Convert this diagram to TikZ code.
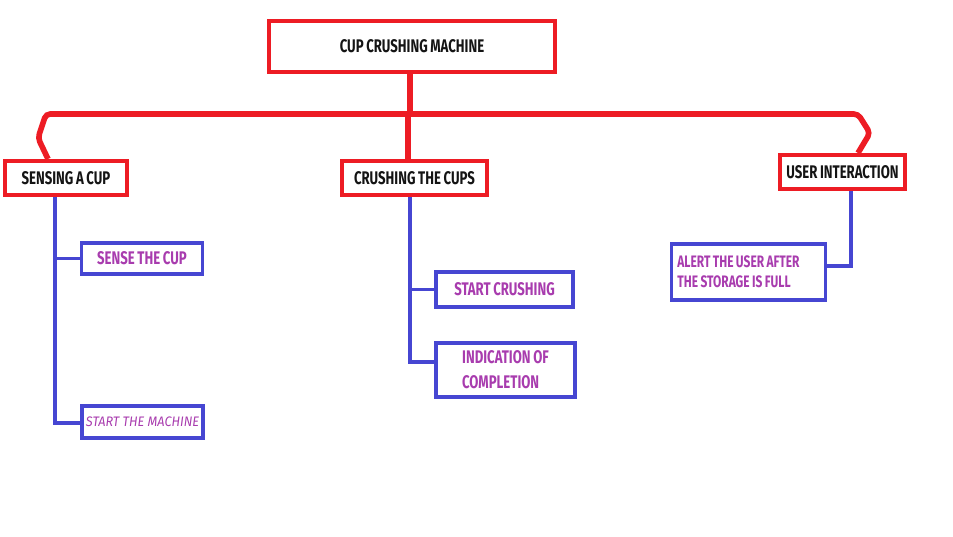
\documentclass[tikz,border=0pt]{standalone}
\usepackage{fontspec}
\usepackage{tikz}
\usetikzlibrary{positioning, calc}
\newfontfamily\dinfont[FakeStretch=0.72, WordSpace=0.85]{Fira Sans}
\newfontfamily\handfont[FakeStretch=0.92]{Fira Sans}
\definecolor{boxred}{HTML}{ED1C24}
\definecolor{boxblue}{HTML}{4646D2}
\definecolor{tasktext}{HTML}{A83CAE}
\definecolor{headtext}{HTML}{141414}

\tikzset{
  headbox/.style={draw=boxred, line width=2.6pt, text=headtext, font=\dinfont\bfseries\fontsize{13}{15}\selectfont, inner sep=0pt},
  taskbox/.style={draw=boxblue, line width=2.6pt, text=tasktext, font=\dinfont\bfseries\fontsize{13}{15}\selectfont, inner sep=0pt},
  redline/.style={boxred, line width=4pt, rounded corners=3pt},
  blueline/.style={boxblue, line width=2.8pt}
}

\begin{document}
\begin{tikzpicture}[x=0.025cm, y=-0.025cm]
  \useasboundingbox (0,0) rectangle (953,537);
  % main heading
  \node[headbox, minimum width=7.15cm, minimum height=1.28cm] (machine) at (412,46.5) {CUP CRUSHING MACHINE};
  % sub headings
  \node[headbox, minimum width=3.05cm, minimum height=0.86cm] (sensing) at (66,178) {SENSING A CUP};
  \node[headbox, minimum width=3.62cm, minimum height=0.86cm] (crushing) at (414.5,178) {CRUSHING THE CUPS};
  \node[headbox, minimum width=3.12cm, minimum height=0.86cm] (user) at (842.5,172) {USER INTERACTION};
  % tasks
  \node[taskbox, minimum width=3.02cm, minimum height=0.78cm] (sense) at (142,258.5) {SENSE THE CUP};
  \node[taskbox, minimum width=3.02cm, minimum height=0.8cm, font=\handfont\itshape\fontsize{9.8}{12}\selectfont] (start) at (142.5,422) {START THE MACHINE};
  \node[taskbox, minimum width=3.42cm, minimum height=0.88cm] (crush) at (504.5,289.5) {START CRUSHING};
  \node[taskbox, minimum width=3.47cm, minimum height=1.35cm, align=left, font=\dinfont\bfseries\fontsize{13}{17.7}\selectfont] (done) at (505.5,370) {INDICATION OF\\COMPLETION};
  \node[taskbox, inner xsep=0.15cm, minimum height=1.4cm, align=left, font=\dinfont\bfseries\fontsize{11.8}{14.5}\selectfont] (alert) at (748.5,272) {ALERT THE USER AFTER\hspace*{0.5cm}\\THE STORAGE IS FULL};

  % red tree
  \coordinate (busL) at (46,114);
  \coordinate (busR) at (858,114);
  \draw[redline] (machine.south -| 410,0) -- (410,114);
  \draw[redline] (sensing.north -| 48,0) -- (38,138) -- (busL) -- (busR) -- (870,133) -- (user.north -| 858,0);
  \draw[redline] (408,114) -- (crushing.north -| 408,0);

  % blue branches
  \draw[blueline] (sensing.south -| 55,0) -- (55,423) -- (start.west |- 0,423);
  \draw[blueline] (55,258.5) -- (sense.west);
  \draw[blueline] (crushing.south -| 410,0) -- (410,362) -- (done.west |- 0,362);
  \draw[blueline] (410,289.5) -- (crush.west);
  \draw[blueline] (user.south -| 851,0) -- (851,266) -- (alert.east |- 0,266);
\end{tikzpicture}
\end{document}
